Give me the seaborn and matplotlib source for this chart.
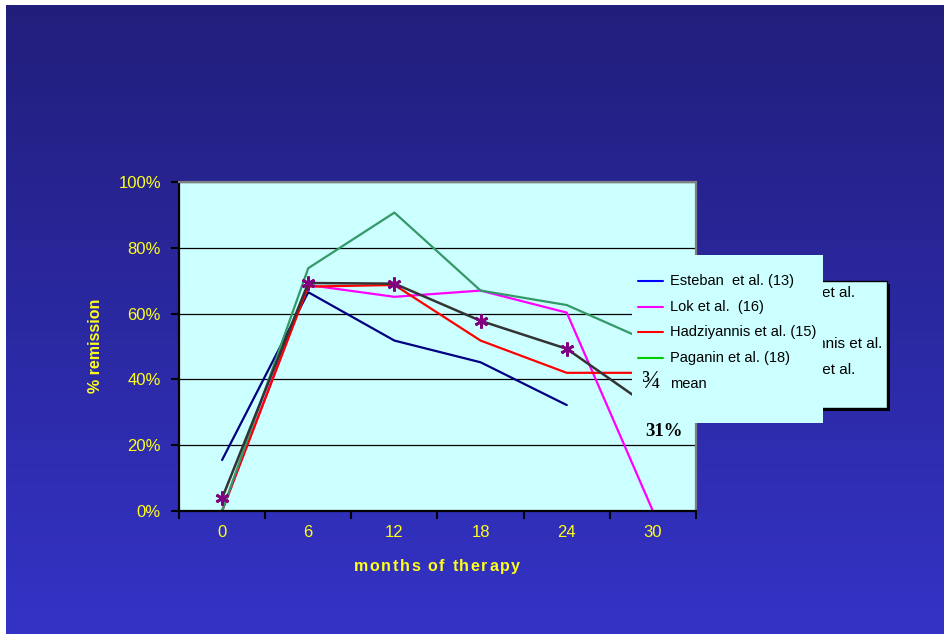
import numpy as np
import pandas as pd
import matplotlib
matplotlib.use("Agg")
import matplotlib.pyplot as plt
import seaborn as sns
from matplotlib.patches import Rectangle
from matplotlib.lines import Line2D
from matplotlib.ticker import PercentFormatter

# ---- data -------------------------------------------------------------
months = ["0", "6", "12", "18", "24", "30"]

study_names = ["Esteban  et al. (13)", "Lok et al.  (16)",
               "Hadziyannis et al. (15)", "Paganin et al. (18)"]
esteban = [15.5, 66.5, 51.8, 45.2, 32.2, None]
lok = [0.0, 68.7, 65.1, 67.0, 60.3, 0.0]
hadziyannis = [0.0, 68.2, 68.7, 51.8, 42.0, 42.0]
paganin = [0.0, 73.8, 90.7, 67.0, 62.6, 51.0]
mean_pct = [3.9, 69.3, 69.1, 57.8, 49.3, 31.0]
mean_label = "mean"
final_mean_text = "31%"

line_colors = ["#000080", "#FF00FF", "#FF0000", "#339966"]
legend_colors = ["#0000FF", "#FF00FF", "#FF0000", "#00CC00"]
older_legend = ["Esteban et al.", "Lok et al.", "Hadziyannis et al.", "Paganin et al."]

YELLOW = "#FFFF1A"
PLOT_BG = "#CCFFFF"

# ---- long-form table for seaborn ------------------------------------
rows = []
for name, vals in zip(study_names, [esteban, lok, hadziyannis, paganin]):
    for i, v in enumerate(vals):
        if v is not None:
            rows.append({"pos": i, "pct": v, "study": name})
df = pd.DataFrame(rows)
mean_df = pd.DataFrame({"pos": range(len(months)), "pct": mean_pct})

sns.set_theme(style="white")
plt.rcParams["font.family"] = ["Liberation Sans", "DejaVu Sans"]

W, H = 945, 634
fig = plt.figure(figsize=(W / 100, H / 100), dpi=100, facecolor="white")

# gradient slide background
bg = fig.add_axes([6 / W, 0, (W - 6) / W, (H - 5) / H], zorder=-5)
top = np.array([0x21, 0x1E, 0x7B]) / 255
bot = np.array([0x34, 0x33, 0xC6]) / 255
t = np.linspace(0, 1, 256)[:, None, None]
bg.imshow(top + (bot - top) * t, aspect="auto", extent=[0, 1, 0, 1], origin="upper")
bg.axis("off")

# ---- main plot --------------------------------------------------------
ax = fig.add_axes([179 / W, (H - 511) / H, 517 / W, 329 / H])
ax.set_facecolor(PLOT_BG)

sns.lineplot(data=df, x="pos", y="pct", hue="study", hue_order=study_names,
             palette=dict(zip(study_names, line_colors)), estimator=None,
             sort=False, legend=False, linewidth=1.6, ax=ax)
sns.lineplot(data=mean_df, x="pos", y="pct", estimator=None, sort=False,
             color="#333333", linewidth=1.8, marker=(6, 2, 0), markersize=10,
             markeredgecolor="#800080", markerfacecolor="#800080",
             markeredgewidth=2, ax=ax)

ax.set_xlim(-0.5, len(months) - 0.5)
ax.set_ylim(0, 100)
ax.set_xticks(np.arange(-0.5, len(months), 1))
ax.set_xticklabels([])
ax.set_xticks(range(len(months)), minor=True)
ax.set_xticklabels(months, minor=True)
ax.tick_params(axis="x", which="major", bottom=True, length=6, width=1.5,
               color="black", direction="out")
ax.tick_params(axis="x", which="minor", bottom=True, length=0, pad=10,
               labelsize=12, labelcolor=YELLOW)
ax.set_yticks(range(0, 101, 20))
ax.yaxis.set_major_formatter(PercentFormatter(xmax=100, decimals=0))
ax.tick_params(axis="y", left=True, length=6, width=1.5, color="black",
               direction="out", pad=7, labelsize=12, labelcolor=YELLOW)
ax.yaxis.grid(True, color="black", linewidth=0.9)
ax.xaxis.grid(False)
ax.set_axisbelow(True)
for side in ["left", "bottom"]:
    ax.spines[side].set_color("black")
    ax.spines[side].set_linewidth(1.6)
for side in ["top", "right"]:
    ax.spines[side].set_color("#808080")
    ax.spines[side].set_linewidth(1.6)

ax.set_xlabel("")
ax.set_ylabel("% remission", fontsize=11.5, fontweight="bold", color=YELLOW,
              va="center")
ax.yaxis.set_label_coords((95 - 179) / 517, (511 - 346) / 329)

# ---- overlay in pixel coordinates -------------------------------------
ov = fig.add_axes([0, 0, 1, 1], zorder=10)
ov.set_xlim(0, W)
ov.set_ylim(H, 0)
ov.axis("off")
ov.patch.set_alpha(0)


def spaced_text(target, cx, baseline, s, total_w, **kw):
    renderer = fig.canvas.get_renderer()

    def width(txt):
        tx = target.text(0, 0, txt, **kw)
        w = tx.get_window_extent(renderer).width
        tx.remove()
        return w

    base = width("xx")
    widths = [width("x" + c + "x") - base for c in s]
    gap = (total_w - sum(widths)) / (len(s) - 1)
    x = cx - total_w / 2
    for c, w in zip(s, widths):
        target.text(x, baseline, c, ha="left", va="baseline", **kw)
        x += w + gap


spaced_text(ov, 437, 571, "months of therapy", 166,
            fontsize=11.5, fontweight="bold", color=YELLOW)

# older legend box peeking out behind the current one
ov.add_patch(Rectangle((704, 284), 186, 127, facecolor="black", edgecolor="none", zorder=2))
ov.add_patch(Rectangle((700, 281), 187, 127, facecolor=PLOT_BG, edgecolor="black",
                       linewidth=1, zorder=3))
for k, label in enumerate(older_legend):
    ov.text(762, 293 + 25.7 * k, label, fontsize=11, color="black",
            ha="left", va="center", zorder=4)

# current legend
ov.add_patch(Rectangle((632, 255), 191, 168, facecolor=PLOT_BG, edgecolor="none", zorder=5))
for k, (label, col) in enumerate(zip(study_names, legend_colors)):
    y = 280.7 + 25.8 * k
    ov.add_line(Line2D([638, 663], [y, y], color=col, linewidth=1.5, zorder=6))
    ov.text(670, y, label, fontsize=10.5, color="black", ha="left", va="center", zorder=6)
ov.text(651, 382, "\u00be", fontsize=18, family=["Liberation Serif", "DejaVu Serif"],
        color="black", ha="center", va="center", zorder=6)
ov.text(670, 384, mean_label, fontsize=10.5, color="black", ha="left", va="center", zorder=6)

ov.text(664.5, 431, final_mean_text, fontsize=13.5, fontweight="bold",
        family=["Liberation Serif", "DejaVu Serif"], color="black",
        ha="center", va="center", zorder=6)

fig.savefig("out.png", dpi=100, facecolor="white")
